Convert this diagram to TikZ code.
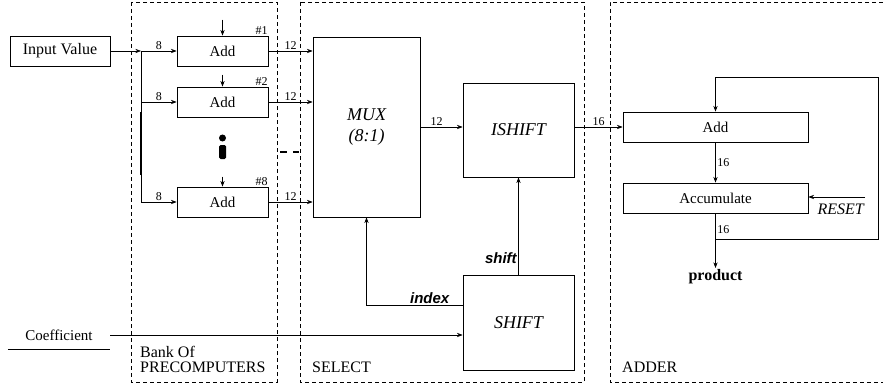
\documentclass[tikz,border=0pt]{standalone}
\usepackage{fontspec}
\setmainfont{Liberation Serif}
\newfontfamily\sigfont{Liberation Sans}
\usetikzlibrary{arrows.meta,positioning}

\begin{document}
\begin{tikzpicture}[
    x=1pt, y=-1pt,
    font=\fontsize{15}{17}\selectfont,
    blk/.style={draw, line width=0.8pt, inner sep=0pt, minimum height=30pt},
    unit/.style={draw, line width=0.8pt, inner sep=0pt, align=center, font=\fontsize{18}{21}\selectfont\itshape},
    frame/.style={dash pattern=on 4pt off 3pt, line width=0.8pt},
    bits/.style={font=\fontsize{12}{13}\selectfont, inner sep=1.5pt},
    sig/.style={font=\fontsize{15}{17}\selectfont\sigfont\bfseries\itshape, inner sep=1.5pt},
    tag/.style={font=\fontsize{16}{15}\selectfont, inner sep=0pt, align=left},
    arrow/.style={-{Stealth[length=2mm]}, line width=0.6pt},
    wire/.style={line width=0.6pt}
]
\useasboundingbox (0,0) rectangle (883,385);

% the three stages
\draw[frame] (131,2) rectangle (277,382);
\draw[frame] (300,2) rectangle (584,382);
\draw[frame] (883,2) -- (610,2) -- (610,382) -- (883,382);
\node[tag, anchor=base west] (bank) at (140,372) {Bank Of\\PRECOMPUTERS};
\node[tag, anchor=base west] (select) at (312,372) {SELECT};
\node[tag, anchor=base west] (adder) at (622,372) {ADDER};

% precomputers
\node[blk, minimum width=100pt, font=\fontsize{16}{18}\selectfont] (input) at (60,51) {Input Value};
\node[blk, minimum width=91pt] (add1) at (222.5,51) {Add};
\node[blk, minimum width=91pt] (add2) at (222.5,102) {Add};
\node[blk, minimum width=91pt] (add8) at (222.5,202) {Add};
\node[bits, anchor=south east, inner sep=0.5pt] (n1) at (add1.north east) {\#1};
\node[bits, anchor=south east, inner sep=0.5pt] (n2) at (add2.north east) {\#2};
\node[bits, anchor=south east, inner sep=0.5pt] (n8) at (add8.north east) {\#8};
\fill (222.5,138) circle (3.5);
\fill[rounded corners=1.5pt] (219,145) rectangle (226,159);

\coordinate (bus) at (141,51);
\draw[arrow] (input) -- (bus);
\draw[arrow] (bus) -- node[bits, above] (w1) {8} (add1);
\draw[wire] (bus) -- (bus |- add8);
\draw[line width=2.5pt] (141,112) -- (141,175);
\draw[arrow] (bus |- add2) -- node[bits, above] (w2) {8} (add2);
\draw[arrow] (bus |- add8) -- node[bits, above] (w8) {8} (add8);
\draw[arrow] ([yshift=16pt]add1.north) -- (add1.north);
\draw[arrow] ([yshift=12pt]add2.north) -- (add2.north);
\draw[arrow] ([yshift=10pt]add8.north) -- (add8.north);

% select
\node[unit, minimum width=107pt, minimum height=180pt] (mux) at (366.5,127) {MUX\\(8:1)};
\node[unit, minimum width=111pt, minimum height=94pt] (ishift) at (518.5,130) {ISHIFT};
\node[unit, minimum width=111pt, minimum height=95pt] (shift) at (518.5,322.5) {SHIFT};

\draw[arrow] (add1) -- node[bits, above] (m1) {12} (add1 -| mux.west);
\draw[arrow] (add2) -- node[bits, above] (m2) {12} (add2 -| mux.west);
\draw[arrow] (add8) -- node[bits, above] (m8) {12} (add8 -| mux.west);
\draw[line width=1.5pt] (280,152) -- (287,152) (293,152) -- (299,152);
\draw[arrow] (mux.east |- 0,127) -- node[bits, above, xshift=-5pt] (m0) {12} (ishift.west |- 0,127);
\draw[arrow] (shift) -- node[sig, pos=0.17, left] (shiftlbl) {shift} (ishift);
\draw[arrow] ([yshift=17.5pt]shift.west) -| node[sig, pos=0.06, anchor=south east] (indexlbl) {index} (mux.south);

\node[minimum width=102pt, minimum height=28pt, inner sep=0pt] (coef) at (59,335) {Coefficient};
\draw[wire] (coef.south west) -- (coef.south east);
\draw[arrow] (coef.east) -- (coef.east -| shift.west);

% adder
\node[blk, minimum width=185pt] (sum) at (715.5,127) {Add};
\node[blk, minimum width=185pt] (acc) at (715.5,198) {Accumulate};
\node[font=\fontsize{16}{18}\selectfont\bfseries, inner sep=1pt, anchor=north] (product) at (715.5,268) {product};
\coordinate (tap) at (715.5,239);
\coordinate (rst) at (865,197);

\draw[arrow] (ishift.east |- sum) -- node[bits, above] (s0) {16} (sum);
\draw[arrow] (sum) -- node[bits, right] (s1) {16} (acc);
\draw[arrow] (acc) -- node[bits, right, pos=0.3] (s2) {16} (product);
\draw[arrow] (tap) -- ++(162.5,0) |- ([yshift=34pt]sum.north) -- (sum.north);
\draw[arrow] (rst) -- (rst -| acc.east);
\node[font=\fontsize{16}{18}\selectfont\itshape, anchor=north east, inner sep=1pt] (resetlbl) at ([yshift=-6pt]rst) {RESET};
\end{tikzpicture}
\end{document}
